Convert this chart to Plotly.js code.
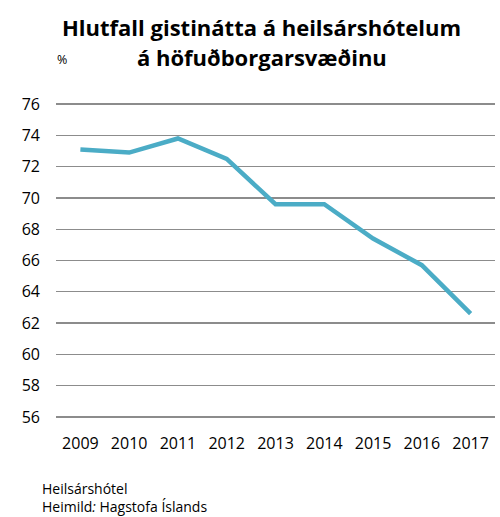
<!DOCTYPE html>
<html><head><meta charset="utf-8">
<script src="https://cdn.plot.ly/plotly-3.0.1.min.js"></script>
<style>body{margin:0;background:#fff}#chart{width:500px;height:517px}</style>
</head><body><div id="chart"></div>
<script>
const years = ['2009','2010','2011','2012','2013','2014','2015','2016','2017'];
const occupancy = [73.1, 72.9, 73.8, 72.5, 69.6, 69.6, 67.4, 65.7, 62.6];
const yTicks = [56,58,60,62,64,66,68,70,72,74,76];
const titleLine1 = 'Hlutfall gistinátta á heilsárshótelum';
const titleLine2 = 'á höfuðborgarsvæðinu';
const unitText = '%';
const noteText = 'Heilsárshótel<br>Heimild<i>:</i> Hagstofa Íslands';

const fontFam = 'Open Sans, sans-serif';
const titleFont = {family: fontFam, size: 22, color: '#000', weight: 'bold'};
const noteFont = {family: fontFam, size: 14, color: '#000'};
Plotly.newPlot('chart', [{
  x: years, y: occupancy, type: 'scatter', mode: 'lines',
  line: {color: '#4bacc6', width: 4.5}, hoverinfo: 'skip'
}], {
  width: 500, height: 517,
  margin: {l: 56, r: 5, t: 103, b: 99},
  paper_bgcolor: '#fff', plot_bgcolor: '#fff',
  showlegend: false,
  font: {family: fontFam, color: '#000'},
  xaxis: {type: 'category', range: [-0.5, 8.5], showgrid: false, zeroline: false,
          showline: false, ticks: '', ticklabelstandoff: 14, tickfont: {size: 16, family: fontFam}},
  yaxis: {range: [55.93, 76.07], tickvals: yTicks, showgrid: true, gridcolor: '#8c8c8c', gridwidth: 1.3,
          zeroline: false, showline: false, ticks: '', ticklabelstandoff: 15,
          tickfont: {size: 16, family: fontFam}},
  annotations: [
    {text: titleLine1, xref: 'paper', yref: 'paper', x: 0.469, y: 1.241, yanchor: 'middle', showarrow: false, font: titleFont},
    {text: titleLine2, xref: 'paper', yref: 'paper', x: 0.469, y: 1.146, yanchor: 'middle', showarrow: false, font: titleFont},
    {text: unitText, xref: 'paper', yref: 'paper', x: -0.002, y: 1.137, yanchor: 'middle', showarrow: false,
     font: {size: 12.5, family: fontFam}},
    {text: noteText, xref: 'paper', yref: 'paper', x: -0.0364, y: -0.251, xanchor: 'left', yanchor: 'middle',
     align: 'left', showarrow: false, font: noteFont}
  ]
}, {displayModeBar: false, staticPlot: true});
</script></body></html>
